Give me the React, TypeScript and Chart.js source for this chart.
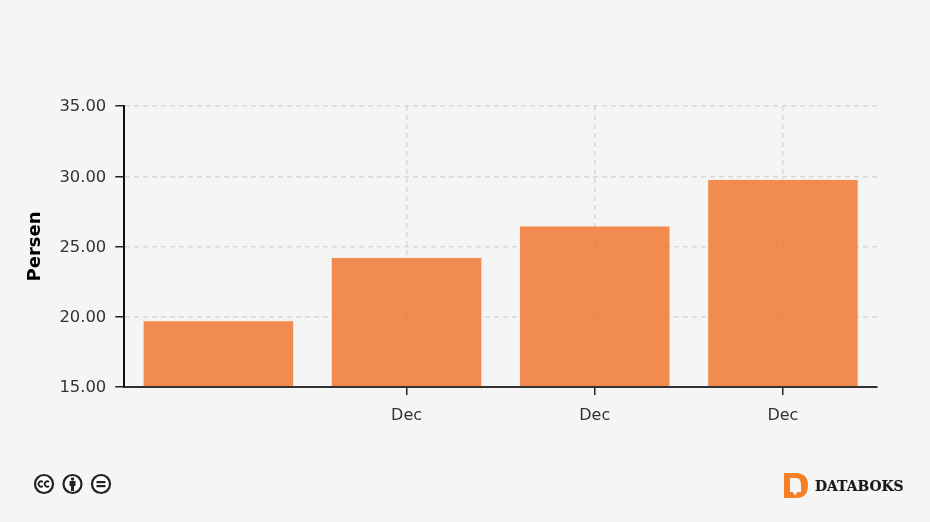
import React, { useEffect, useRef } from "react";
import { Chart, registerables } from "chart.js";

Chart.register(...registerables);

const categories = ["", "Dec", "Dec", "Dec"];
const values = [19.75, 24.25, 26.5, 29.8];
const yTickValues = [15, 20, 25, 30, 35];
const yTitle = "Persen";
const FONT = "'DejaVu Sans', Verdana, sans-serif";

const nudgeYLabels = {
  id: "nudgeYLabels",
  beforeDraw(chart: any) {
    chart.scales.y.getLabelItems().forEach((item: any) => {
      if (!item.__moved) {
        item.options.translation = [item.options.translation[0], item.options.translation[1] + 1];
        item.__moved = true;
      }
    });
  },
};

function Badge({ cx, children }: { cx: number; children: React.ReactNode }) {
  return (
    <g transform={`translate(${cx} 484)`}>
      <circle r="9" fill="#fff" stroke="#222" strokeWidth="2.2" />
      {children}
    </g>
  );
}

export default function App() {
  const ref = useRef<HTMLCanvasElement | null>(null);
  useEffect(() => {
    document.body.style.margin = "0";
    const chart = new Chart(ref.current!, {
      type: "bar",
      plugins: [nudgeYLabels],
      data: {
        labels: categories,
        datasets: [
          {
            data: values,
            backgroundColor: "rgba(241,120,50,0.85)",
            borderColor: "rgba(255,230,210,0.5)",
            borderWidth: 1,
            categoryPercentage: 0.805,
            barPercentage: 1,
          },
        ],
      },
      options: {
        animation: false,
        responsive: false,
        devicePixelRatio: 1,
        layout: { padding: { left: 0, top: 106, right: 53, bottom: 80 } },
        plugins: { legend: { display: false }, tooltip: { enabled: false } },
        scales: {
          x: {
            grid: {
              offset: false,
              color: (c: any) => (c.index === 0 ? "transparent" : "#d8d8d8"),
              tickColor: (c: any) => (c.index === 0 ? "transparent" : "#222"),
              tickLength: 8,
              lineWidth: 1.5,
            },
            border: { color: "#333", width: 2, dash: [5, 4], z: 1 },
            ticks: {
              color: "#333",
              font: { family: FONT, size: 16 },
              padding: 11,
              maxRotation: 0,
              autoSkip: false,
            },
            afterFit: (s: any) => {
              s.height = 55;
            },
          },
          y: {
            min: 15,
            max: 35,
            afterBuildTicks: (s: any) => {
              s.ticks = yTickValues.map((value) => ({ value }));
            },
            grid: { color: "#d8d8d8", tickColor: "#222", tickLength: 9, lineWidth: 1.5 },
            border: { color: "#111", width: 2, dash: [5, 4], z: 1 },
            ticks: {
              color: "#333",
              font: { family: FONT, size: 16.4 },
              padding: 9,
              callback: (v: any) => Number(v).toFixed(2),
            },
            title: {
              display: true,
              text: yTitle,
              color: "#000",
              font: { family: FONT, size: 18, weight: "bold" },
              padding: { top: 25, bottom: 0 },
            },
            afterFit: (s: any) => {
              s.width = 124.3;
            },
          },
        },
      },
    });
    return () => chart.destroy();
  }, []);

  return (
    <div style={{ position: "relative", width: 930, height: 522, background: "#f5f5f5", overflow: "hidden" }}>
      <canvas ref={ref} width={930} height={522} style={{ display: "block" }} />
      <svg width="930" height="522" style={{ position: "absolute", left: 0, top: 0 }}>
        <Badge cx={44}>
          <path d="M-1.2 -2 A2.6 2.6 0 1 0 -1.2 2" fill="none" stroke="#222" strokeWidth="1.8" />
          <path d="M5 -2 A2.6 2.6 0 1 0 5 2" fill="none" stroke="#222" strokeWidth="1.8" />
        </Badge>
        <Badge cx={72.5}>
          <circle cy="-5" r="1.7" fill="#222" />
          <path d="M-3 -3 H3 V2 H1.5 V7 H-1.5 V2 H-3 Z" fill="#222" />
        </Badge>
        <Badge cx={101}>
          <rect x="-4.5" y="-3" width="9" height="2.2" fill="#222" />
          <rect x="-4.5" y="1" width="9" height="2.2" fill="#222" />
        </Badge>
        <path
          fillRule="evenodd"
          fill="#f58025"
          d="M784 473 H797 Q808 474 808 485 Q808 498 796 498 H784 Z M790 478 V492 H793 L795 495.5 L797.5 492 H801 V485 Q801 478 796 478 Z"
        />
        <text x="815" y="491" fontFamily="'DejaVu Serif', serif" fontWeight="bold" fontSize="13.9" stroke="#1a1a1a" strokeWidth="0.2" fill="#1a1a1a">
          DATABOKS
        </text>
      </svg>
    </div>
  );
}
